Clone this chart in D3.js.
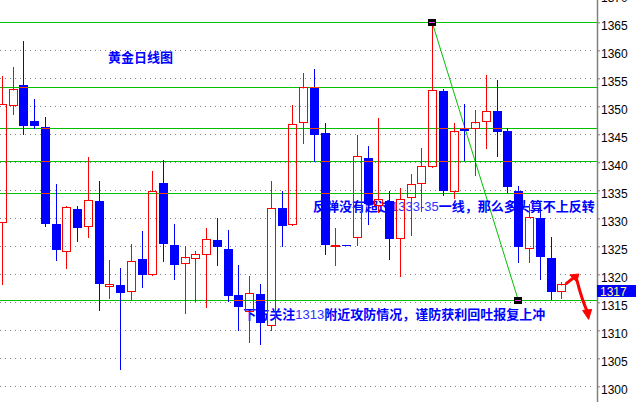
<!DOCTYPE html>
<html><head><meta charset="utf-8">
<script src="https://cdn.jsdelivr.net/npm/d3@7"></script>
<style>
html,body{margin:0;padding:0;background:#fff;overflow:hidden}
svg{display:block}
</style></head><body>
<svg id="c" width="636" height="402"></svg>
<script>
// ---- data (gold daily candles) ----
const days = d3.range(53);
const openP  = [1329.3,1350.2,1353.8,1347.4,1346.3,1329.0,1324.1,1331.6,1328.6,1333.0,1317.8,1318.1,1317.0,1322.7,1320.0,1336.3,1325.2,1322.0,1322.9,1323.6,1326.1,1324.5,1316.3,1313.4,1316.5,1310.9,1331.8,1328.9,1347.1,1353.4,1345.2,1325.0,1325.2,1326.6,1340.8,1332.2,1333.0,1326.4,1333.8,1336.3,1339.3,1352.7,1334.8,1346.1,1346.1,1347.3,1349.1,1345.6,1334.9,1324.6,1330.0,1322.9,1317.0];
const highP  = [1355.4,1357.0,1361.7,1351.3,1348.1,1336.1,1332.2,1332.2,1341.0,1336.7,1322.6,1321.1,1325.4,1327.7,1338.5,1340.4,1329.0,1325.1,1324.1,1328.3,1330.0,1327.9,1321.7,1319.7,1318.3,1336.7,1334.9,1350.2,1356.0,1356.7,1347.0,1328.3,1325.3,1344.9,1342.9,1348.0,1334.9,1335.4,1337.9,1342.6,1365.0,1353.1,1347.0,1350.5,1349.3,1355.6,1354.7,1346.1,1335.8,1332.6,1331.8,1326.7,1318.6];
const lowP   = [1318.1,1348.4,1344.8,1345.9,1328.5,1322.4,1321.0,1325.8,1326.5,1313.5,1315.6,1303.0,1315.2,1317.6,1319.7,1322.2,1319.0,1312.9,1315.1,1313.9,1321.5,1315.0,1309.8,1307.8,1307.3,1309.9,1324.8,1328.6,1343.3,1340.0,1323.5,1321.4,1325.0,1325.1,1328.8,1331.0,1322.6,1319.6,1326.8,1331.2,1338.9,1334.0,1333.4,1340.2,1337.6,1342.3,1341.0,1334.6,1322.1,1322.1,1318.9,1315.4,1315.6];
const closeP = [1350.4,1353.0,1346.5,1346.4,1329.0,1324.4,1332.0,1328.3,1333.2,1318.3,1318.1,1316.7,1322.3,1319.9,1334.8,1325.5,1321.7,1323.0,1323.6,1326.3,1324.8,1316.2,1314.1,1316.6,1311.3,1331.8,1328.7,1346.8,1353.3,1344.8,1325.3,1325.2,1325.1,1341.1,1332.6,1333.3,1326.3,1333.4,1336.1,1339.3,1352.9,1334.9,1345.5,1345.6,1347.1,1349.1,1345.5,1335.6,1324.8,1330.2,1323.1,1316.9,1318.1];
const levels = [1365.0, 1353.4, 1346.1, 1340.2, 1334.5, 1315.4];
const tickValues = d3.range(1300, 1371, 5);
const trendPts = [{i:40, p:1365.0}, {i:48, p:1315.4}];
const lastPrice = 1317;
const titleText = "黄金日线图";
const ann1Parts = ["反弹没有超过", "1333-35", "一线，那么多头算不上反转"];
const ann2Parts = ["下方关注", "1313", "附近攻防情况，谨防获利回吐报复上冲"];

const W = 636, H = 402, axisX = 597;
const svg = d3.select("#c");
const x = d3.scaleLinear().domain([0, 52]).range([1.74, 561.26]);
const y = d3.scaleLinear().domain([1300, 1360]).range([386.3, 50.3]);
const snap = v => Math.floor(v) + 0.5;
const BLUE = "#0000ff", RED = "#ff0000", GREEN = "#00c000";

const candles = days.map(i => ({i, o:openP[i], h:highP[i], l:lowP[i], c:closeP[i], up: closeP[i] >= openP[i]}));

// grid
svg.append("g").selectAll("line").data(tickValues).join("line")
  .attr("x1", 0).attr("x2", axisX - 4)
  .attr("y1", d => snap(y(d))).attr("y2", d => snap(y(d)))
  .attr("stroke", "#808080").attr("stroke-width", 1).attr("stroke-dasharray", "1,4");

// level lines
svg.append("g").selectAll("line").data(levels).join("line")
  .attr("x1", 0).attr("x2", axisX)
  .attr("y1", d => snap(y(d))).attr("y2", d => snap(y(d)))
  .attr("stroke", GREEN).attr("stroke-width", 1);

// trend line
svg.append("line")
  .attr("x1", x(trendPts[0].i)).attr("y1", y(trendPts[0].p))
  .attr("x2", x(trendPts[1].i)).attr("y2", y(trendPts[1].p))
  .attr("stroke", GREEN).attr("stroke-width", 1);

// annotations (behind candles)
const cjk = "'Noto Sans CJK SC','Noto Sans',sans-serif";
function ann(parts, i, p) {
  const t = svg.append("text").attr("x", x(i)).attr("y", y(p))
    .attr("fill", BLUE).attr("font-family", cjk).attr("font-size", 13).attr("font-weight", "bold");
  parts.forEach((s, k) => {
    const ts = t.append("tspan").text(s);
    if (k === 1) ts.attr("font-family", "'Liberation Sans',Arial,sans-serif").attr("font-weight", "normal").attr("fill", "#3030ff");
  });
}
ann([titleText], 9.88, 1357.9);
ann(ann1Parts, 28.93, 1331.3);
ann(ann2Parts, 22.45, 1312.0);

// candles
const cg = svg.append("g");
candles.forEach(d => {
  const cx = Math.round(x(d.i));
  const col = d.up ? RED : BLUE;
  const top = y(Math.max(d.o, d.c)), bot = y(Math.min(d.o, d.c));
  const g = cg.append("g");
  // wicks
  g.append("line").attr("x1", cx + 0.5).attr("x2", cx + 0.5)
    .attr("y1", Math.round(y(d.h))).attr("y2", Math.round(top) + 0.5).attr("stroke", col);
  g.append("line").attr("x1", cx + 0.5).attr("x2", cx + 0.5)
    .attr("y1", Math.round(bot)).attr("y2", Math.round(y(d.l))).attr("stroke", col);
  if (d.up) {
    const t = snap(top), b = Math.max(snap(bot), t + 1);
    g.append("rect").attr("x", cx - 4 + 0.5).attr("y", t).attr("width", 8).attr("height", b - t)
      .attr("fill", "none").attr("stroke", RED).attr("stroke-width", 1);
  } else {
    const t = Math.round(top), b = Math.max(Math.round(bot), t + 1);
    g.append("rect").attr("x", cx - 4).attr("y", t).attr("width", 9).attr("height", b - t)
      .attr("fill", BLUE);
    // level lines crossing blue bodies show as orange (xor effect)
    levels.forEach(lv => {
      const ly = snap(y(lv));
      if (ly > t && ly < b) {
        g.append("line").attr("x1", cx - 4).attr("x2", cx + 5).attr("y1", ly).attr("y2", ly)
          .attr("stroke", "#ff3f00").attr("stroke-width", 1);
      }
    });
  }
});

// trend markers
trendPts.forEach(pt => {
  const cx = Math.round(x(pt.i)), cy = Math.floor(y(pt.p));
  svg.append("rect").attr("x", cx - 4).attr("y", cy - 3).attr("width", 8).attr("height", 7).attr("fill", "#000");
  svg.append("line").attr("x1", cx - 3).attr("x2", cx + 3).attr("y1", cy + 0.5).attr("y2", cy + 0.5)
    .attr("stroke", "#ff40ff").attr("stroke-width", 1);
});

// red hand-drawn arrows
const ag = svg.append("g").attr("fill", RED).attr("stroke", RED);
const a1s = [x(52.4), y(1318.25)], a1e = [x(53.35), y(1319.7)];
ag.append("path").attr("d", `M${a1s[0]},${a1s[1]} L${a1e[0]},${a1e[1]}`).attr("fill", "none").attr("stroke-width", 3);
ag.append("path").attr("d", `M${a1e[0]+3},${a1e[1]-2} L${a1e[0]-6},${a1e[1]-1} L${a1e[0]+1},${a1e[1]+6} Z`).attr("stroke-width", 1);
const a2s = [x(53.45), y(1319.0)], a2m = [x(53.9), y(1315.5)], a2e = [x(54.45), y(1313.2)];
ag.append("path").attr("d", `M${a2s[0]},${a2s[1]} Q${a2m[0]},${a2m[1]} ${a2e[0]},${a2e[1]}`).attr("fill", "none").attr("stroke-width", 3);
ag.append("path").attr("d", `M${a2e[0]+1},${a2e[1]+7} L${a2e[0]-5},${a2e[1]-2} L${a2e[0]+4},${a2e[1]-3} Z`).attr("stroke-width", 1);

// right axis
const axG = svg.append("g").attr("transform", `translate(${axisX},0)`);
axG.call(d3.axisRight(y).tickValues(tickValues).tickSize(3).tickPadding(1).tickFormat(d3.format("d")));
axG.select(".domain").remove();
axG.selectAll(".tick line").attr("stroke", "#808080");
axG.selectAll(".tick text").attr("font-family", "'Liberation Sans',Arial,sans-serif").attr("font-size", 12)
  .attr("fill", "#000").attr("dy", "0.62em").attr("x", 4);
axG.append("line").attr("x1", 0.5).attr("x2", 0.5).attr("y1", 0).attr("y2", H).attr("stroke", "#808080").attr("stroke-width", 1.5);

// last price label
const ly = y(lastPrice);
svg.append("rect").attr("x", axisX).attr("y", Math.round(ly) - 6).attr("width", W - axisX).attr("height", 12).attr("fill", BLUE);
svg.append("text").attr("x", axisX + 3).attr("y", Math.round(ly) + 4.5).text(lastPrice)
  .attr("font-family", "'Liberation Sans',Arial,sans-serif").attr("font-size", 12).attr("fill", "#ffff80");
</script>
</body></html>
